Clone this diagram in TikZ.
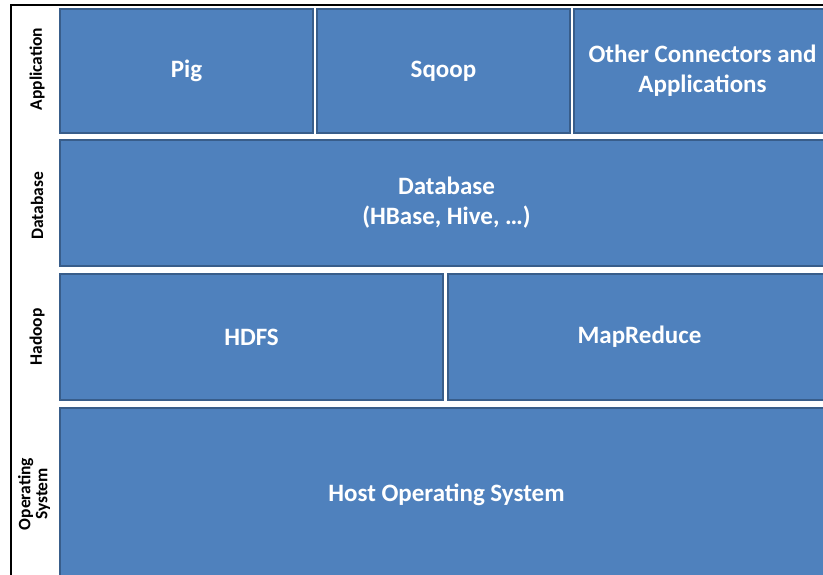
\documentclass[tikz,border=0pt]{standalone}
\usepackage{fontspec}
\setmainfont{Carlito}
\usepackage{tikz}
\definecolor{layerfill}{RGB}{79, 129, 189}
\definecolor{layerline}{RGB}{56, 93, 138}

\begin{document}
\begin{tikzpicture}[x=1pt, y=-1pt,
    layerbox/.style={draw=layerline, fill=layerfill, line width=2pt,
        rectangle, anchor=north west, inner sep=0pt, text=white, align=center,
        font=\fontsize{25}{30}\selectfont\bfseries},
    sidelabel/.style={rotate=90, align=center, inner sep=0pt,
        font=\fontsize{17.5}{17}\selectfont\bfseries}]
\useasboundingbox (0,0) rectangle (823,575);
\clip (0,0) rectangle (823,575);

% frame
\draw[line width=1.5pt] (11,580) -- (11,5) -- (830,5);

% application layer
\node[layerbox, minimum width=253pt, minimum height=124pt] (pig) at (59,8) {Pig};
\node[layerbox, minimum width=253pt, minimum height=124pt] (sqoop) at (316,8) {Sqoop};
\node[layerbox, minimum width=257pt, minimum height=124pt] (other) at (573,8) {Other Connectors and\\Applications};

% database layer
\node[layerbox, minimum width=773pt, minimum height=126pt] (db) at (59,139) {Database\\(HBase, Hive, \dots)};

% hadoop layer
\node[layerbox, minimum width=383pt, minimum height=126pt] (hdfs) at (59,273) {HDFS};
\node[layerbox, minimum width=383pt, minimum height=126pt] (mapred) at (447,273) {MapReduce};

% operating system layer
\node[layerbox, minimum width=773pt, minimum height=174pt] (os) at (59,407) {Host Operating System};

% side labels
\node[sidelabel] (lapp) at (37,69) {Application};
\node[sidelabel] (ldb) at (37,206) {Database};
\node[sidelabel] (lhad) at (37,337) {Hadoop};
\node[sidelabel] (los) at (34,494) {Operating\\System};
\end{tikzpicture}
\end{document}
